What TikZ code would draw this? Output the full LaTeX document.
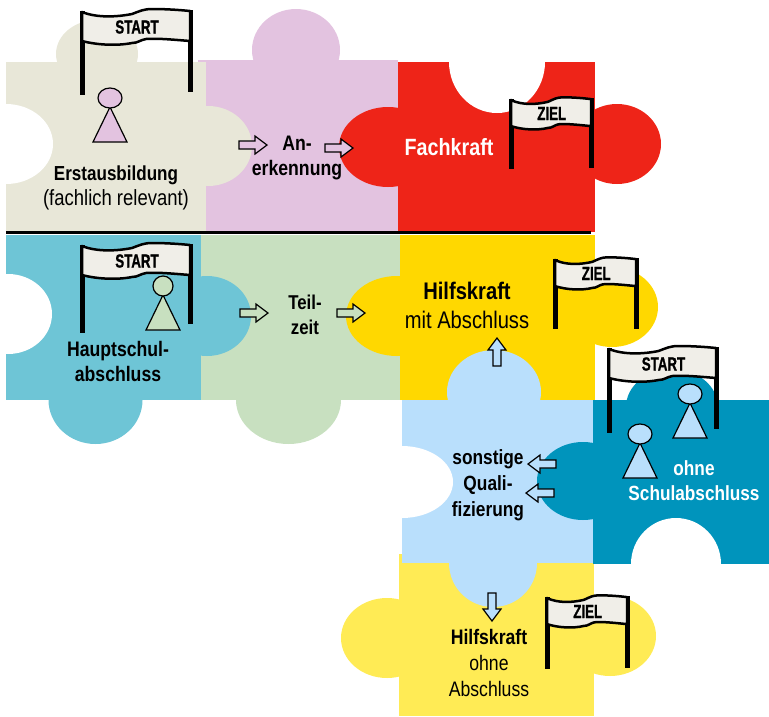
\documentclass[tikz,border=0pt]{standalone}
\usepackage{fontspec}
\setmainfont{Liberation Sans}
\newfontfamily\narrowfont[FakeStretch=.84]{Liberation Sans}
\newfontfamily\flagfont[FakeStretch=.7,BoldFeatures={FakeBold=1}]{Liberation Sans}
\definecolor{beige}{HTML}{E8E7D8}
\definecolor{lilac}{HTML}{E3C3E0}
\definecolor{rot}{HTML}{EE2418}
\definecolor{tuerkis}{HTML}{6EC5D6}
\definecolor{gruen}{HTML}{C8E0C0}
\definecolor{gold}{HTML}{FFD800}
\definecolor{hellblau}{HTML}{B9DFFC}
\definecolor{petrol}{HTML}{0094BC}
\definecolor{gelb}{HTML}{FFEB55}
\definecolor{banner}{HTML}{F0EEE8}
\begin{document}
\begin{tikzpicture}[
x=1pt, y=-1pt,
erst/.style={fill=beige},
aner/.style={fill=lilac},
fach/.style={fill=rot},
haupt/.style={fill=tuerkis},
teil/.style={fill=gruen},
mitab/.style={fill=gold},
sonst/.style={fill=hellblau},
ohne/.style={fill=petrol},
ziel/.style={fill=gelb},
hole/.style={fill=white},
lbl/.style={font=\narrowfont\fontsize{20}{25}\selectfont, align=center, inner sep=0pt},
pole/.style={line width=5pt},
flagtxt/.style={font=\flagfont\bfseries\fontsize{19}{19}\selectfont, inner sep=0pt},
person/.style={draw=black, line width=1.2pt, line join=miter},
blockarrow/.style={draw=black, line width=1.2pt, line join=miter}
]

\useasboundingbox (0,0) rectangle (769,716);

%%% Pieces
\foreach \x/\y/\xx/\yy/\fun in {
	198/60/398/232/aner,
	6/62/206/232/erst,
	398/62/595/232/fach,
	6/235/201/400/haupt,
	201/235/400/400/teil,
	400/235/595/400/mitab,
	399/554/594/716/ziel,
	402/400/593/563/sonst,
	593/400/769/564/ohne}{
	\path[\fun] (\x,\y) rectangle (\xx,\yy);
}

%%% Knobs and holes
\foreach \x/\y/\rx/\ry/\fun in {
	97/54/41/34/erst,
	208/146/44/40/erst,
	296/50/44/41/aner,
	388/147/49/40/fach,
	617/144/44/40/fach,
	207/316/44/40/haupt,
	95.5/400/47/44/haupt,
	288.5/400/52.5/44/teil,
	397/316/51/40/mitab,
	612/307/46/40/mitab,
	494/392/47/42/sonst,
	493/563/44/44/sonst,
	583/481/46/39/ohne,
	672/407/46/38/ohne,
	387/638/46/40/ziel,
	610/636/46/40/ziel,
	6/144/47/40/hole,
	8/314/44/40/hole,
	497/62/48/51/hole,
	402/482/51/36/hole,
	676/564/45/46/hole}{
	\path[\fun] (\x,\y) ellipse [x radius=\rx, y radius=\ry];
}

\fill (6,231) rectangle (591,234);

%%% Persons
\foreach \x/\y/\rx/\col in {
	110/98/12/lilac,
	163/286/10/gruen,
	690/394/12/hellblau,
	640/434/12/hellblau}{
	\draw[person, fill=\col] (\x,\y+9)--(\x+17,\y+44)--(\x-17,\y+44)--cycle;
	\draw[person, fill=\col] (\x,\y) ellipse [x radius=\rx, y radius=10];
}

%%% Flags
\foreach \x/\y/\w/\h/\hr/\txt/\name in {
	82/12/108/83/80/START/flagA,
	82/246/108/87/78/START/flagB,
	609/349/107/84/80/START/flagC,
	511/100/80/69/68/ZIEL/flagD,
	555/260/81/69/69/ZIEL/flagE,
	547/598/80/71/70/ZIEL/flagF}{
	\pgfmathsetmacro{\sx}{\w/108}
	\pgfmathsetmacro{\sy}{ifthenelse(\w<100, .9, 1)}
	\begin{scope}[shift={(\x,\y)}, xscale=\sx, yscale=\sy]
		\draw[pole] (0,-1)--(0,\h/\sy);
		\draw[pole] (108,-2)--(108,\hr/\sy);
		\draw[fill=banner, line width=2.5pt, line join=round] (0,0)
			.. controls (15,6) and (35,5) .. (50,2)
			.. controls (58,-1) and (62,-3) .. (70,-3)
			.. controls (85,-3) and (98,-2) .. (108,-1)
			-- (108,29)
			.. controls (95,28) and (75,26) .. (64,27)
			.. controls (58,28) and (56,31) .. (50,31)
			.. controls (35,34) and (15,33) .. (0,29) -- cycle;
		\node[flagtxt] (\name) at (55,15) {\txt};
	\end{scope}
}

%%% Arrows
\foreach \x/\y/\dx/\dy/\col in {
	239/145/1/0/lilac,
	325/148/1/0/lilac,
	240/313/1/0/gruen,
	337/313/1/0/gruen,
	497/366/0/1/hellblau,
	556/464/-1/0/hellblau,
	554/493/-1/0/hellblau,
	492/593/0/-1/hellblau}{
	\draw[blockarrow, fill=\col, shift={(\x,\y)}, cm={\dx,\dy,-\dy,\dx,(0,0)}]
		(0,-4)--(16,-4)--(16,-9)--(28,0)--(16,9)--(16,4)--(0,4)--cycle;
}

%%% Labels
\node[lbl, font=\narrowfont\fontsize{20.3}{25}\selectfont] (erstausbildung) at (116,188) {\bfseries Erstausbildung\\\fontsize{22}{25}\selectfont (fachlich relevant)};
\node[lbl, font=\narrowfont\bfseries\fontsize{21}{25}\selectfont] (anerkennung) at (297,158) {An-\\erkennung};
\node[lbl, white, font=\narrowfont\bfseries\fontsize{23.5}{25}\selectfont] (fachkraft) at (449,147) {Fachkraft};
\node[lbl, font=\narrowfont\bfseries\fontsize{21}{25}\selectfont] (hauptschul) at (118,361) {Hauptschul-\\abschluss};
\node[lbl, font=\narrowfont\bfseries\fontsize{20}{25}\selectfont] (teilzeit) at (305,315) {Teil-\\zeit};
\node[lbl, font=\narrowfont\fontsize{24}{29}\selectfont] (mitabschluss) at (467,305) {\bfseries Hilfskraft\\mit Abschluss};
\node[lbl, font=\narrowfont\bfseries\fontsize{20.6}{26}\selectfont] (sonstige) at (488,485) {sonstige\\Quali-\\fizierung};
\node[lbl, white, font=\narrowfont\bfseries\fontsize{20.5}{25}\selectfont] (ohneab) at (694,481) {ohne\\Schulabschluss};
\node[lbl, font=\narrowfont\fontsize{21}{26}\selectfont] (ohneabschluss) at (489,663) {\bfseries Hilfskraft\\ohne\\Abschluss};

\end{tikzpicture}
\end{document}
